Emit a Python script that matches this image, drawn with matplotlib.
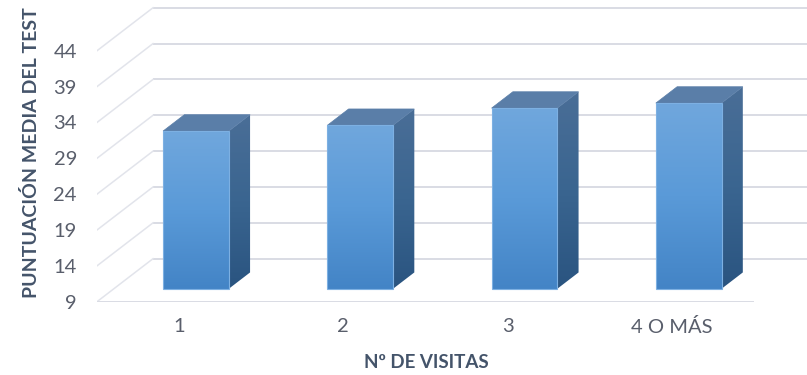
import numpy as np
import matplotlib
matplotlib.use("Agg")
import matplotlib.pyplot as plt
from matplotlib.patches import Polygon
from matplotlib.colors import LinearSegmentedColormap

# Data
categories = ["1", "2", "3", "4 O MÁS"]
scores = [31.0, 31.8, 34.2, 34.9]
y_ticks = [9, 14, 19, 24, 29, 34, 39, 44]

# Oblique projection of the depth axis (per unit depth, in data units)
SX, SY = 0.341, 6.0
D0, D1 = 0.30, 0.68          # front and back depth of every bar
BAR_W = 0.40
BASE = y_ticks[0]

W, H = 807, 375
fig = plt.figure(figsize=(W / 100, H / 100), dpi=100)
fig.patch.set_facecolor("white")
ax = fig.add_axes([97 / W, (H - 301.7) / H, (W - 97) / W, 301.7 / H])
ax.patch.set_visible(False)
for s in ax.spines.values():
    s.set_visible(False)

grid_c = "#D9DCE4"
side_grid_c = "#E2E4EB"

# back wall gridlines and left wall diagonals
for v in y_ticks:
    ax.plot([SX, len(categories) + SX], [v + SY, v + SY], color=grid_c, lw=1.4,
            solid_capstyle="butt", zorder=1)
    ax.plot([0, SX], [v, v + SY], color=side_grid_c, lw=1.1, zorder=1)
# front edge of the floor
ax.plot([0, len(categories)], [BASE, BASE], color=grid_c, lw=1.4,
        solid_capstyle="butt", zorder=1)

front_cmap = LinearSegmentedColormap.from_list(
    "front", ["#4384C6", "#5A9AD8", "#70A7DD"])
side_cmap = LinearSegmentedColormap.from_list(
    "side", ["#2A5480", "#3A6590", "#4A6E97"])
grad = np.linspace(0, 1, 256).reshape(-1, 1)

dd = D1 - D0
for i, v in enumerate(scores):
    x0 = i + (1 - BAR_W) / 2 + D0 * SX
    b = BASE + D0 * SY
    top = v + D0 * SY
    x1 = x0 + BAR_W
    # front face
    ax.imshow(grad, cmap=front_cmap, origin="lower", aspect="auto",
              extent=[x0, x1, b, top], zorder=3, interpolation="bilinear")
    ax.add_patch(Polygon([(x0, b), (x1, b), (x1, top), (x0, top)], closed=True,
                         fill=False, ec="#7DB0E2", lw=0.8, zorder=4))
    # right side face
    side = Polygon([(x1, b), (x1 + dd * SX, b + dd * SY),
                    (x1 + dd * SX, top + dd * SY), (x1, top)], closed=True,
                   fc="none", ec="none")
    ax.add_patch(side)
    im = ax.imshow(grad, cmap=side_cmap, origin="lower", aspect="auto",
                   extent=[x1, x1 + dd * SX, b, top + dd * SY], zorder=3,
                   interpolation="bilinear")
    im.set_clip_path(side)
    # top face
    ax.add_patch(Polygon([(x0, top), (x1, top), (x1 + dd * SX, top + dd * SY),
                          (x0 + dd * SX, top + dd * SY)], closed=True,
                         fc="#5A7EA8", ec="#5A7EA8", lw=0.5, zorder=3))

ax.set_xlim(0, (W - 97) / 164.25)
ax.set_ylim(BASE, BASE + 301.7 / 7.17)

font = "Lato"
ax.set_yticks(y_ticks)
ax.set_yticklabels([str(t) for t in y_ticks], fontfamily=font, fontsize=14.5,
                   color="#595E6B")
ax.set_xticks(np.arange(len(categories)) + 0.5)
ax.set_xticklabels(categories, fontfamily=font, fontsize=14.5, color="#595E6B")
ax.tick_params(axis="y", length=0, pad=14.4)
ax.tick_params(axis="x", length=0, pad=12)

fig.text(31 / W, 1 - 153 / H, "PUNTUACIÓN MEDIA DEL TEST", rotation=90,
         ha="center", va="center", fontfamily=font, fontweight="bold",
         fontsize=14, color="#44546A")
fig.text(426 / W, 1 - 363 / H, "Nº DE VISITAS", ha="center", va="center",
         fontfamily=font, fontweight="bold", fontsize=13.5, color="#44546A")

fig.savefig("out.png", dpi=100, facecolor="white")
